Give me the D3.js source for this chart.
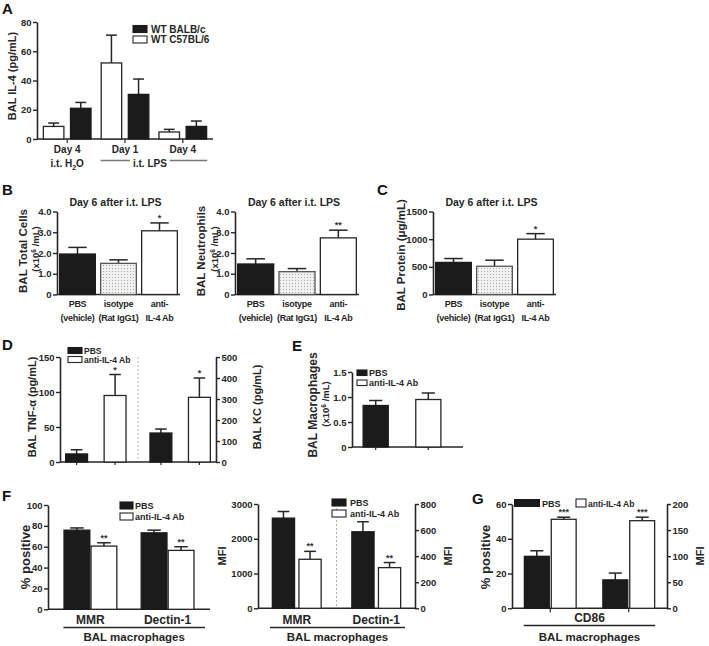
<!DOCTYPE html>
<html><head><meta charset="utf-8">
<script src="https://cdn.jsdelivr.net/npm/d3@7"></script>
<style>
body{margin:0;background:#fff}
svg{display:block;font-family:"Liberation Sans",Arial,Helvetica,sans-serif;font-weight:bold}
</style></head><body>
<svg id="fig" width="709" height="646"></svg>
<script>
// ===================== DATA =====================
// Panel A : BAL IL-4 (pg/mL)
const aGroupLabels = ["Day 4", "Day 1", "Day 4"];
const aSeriesNames = ["WT BALB/c", "WT C57BL/6"];
const aC57 = [8.6, 52, 4.8];
const aC57Err = [2.3, 19, 1.8];
const aBalb = [21, 30.5, 8.6];
const aBalbErr = [4, 10.5, 3.7];
const aTicks = [0, 20, 40, 60, 80];

// Panel B
const bCategories = [["PBS", "(vehicle)"], ["isotype", "(Rat IgG1)"], ["anti-", "IL-4 Ab"]];
const bTotal = [1.95, 1.5, 3.07];
const bTotalErr = [0.32, 0.17, 0.38];
const bTotalSig = ["", "", "*"];
const bNeut = [1.47, 1.1, 2.73];
const bNeutErr = [0.25, 0.15, 0.37];
const bNeutSig = ["", "", "**"];
const bTicks = [0, 1, 2, 3, 4];

// Panel C
const cProtein = [580, 510, 1000];
const cProteinErr = [70, 110, 100];
const cSig = ["", "", "*"];
const cTicks = [0, 500, 1000, 1500];

// Panel D
const treatments = ["PBS", "anti-IL-4 Ab"];
const dTnf = [11.5, 95];
const dTnfErr = [6, 30];
const dKc = [138, 308];
const dKcErr = [19, 92];
const dSig = ["", "*"];
const dTnfTicks = [0, 50, 100, 150];
const dKcTicks = [0, 100, 200, 300, 400, 500];

// Panel E
const eMac = [0.83, 0.95];
const eMacErr = [0.1, 0.13];
const eTicks = [0, 0.5, 1.0, 1.5];

// Panel F
const fMarkers = ["MMR", "Dectin-1"];
const fPctPbs = [75.9, 73.3];
const fPctPbsErr = [2.1, 2.6];
const fPctAnti = [60.6, 56.5];
const fPctAntiErr = [3.2, 3.5];
const fPctSig = ["**", "**"];
const fMfiPbs = [2594, 587];      // MMR on left axis, Dectin-1 on right axis
const fMfiPbsErr = [190, 77];
const fMfiAnti = [1410, 312];
const fMfiAntiErr = [228, 39];
const fMfiSig = ["**", "**"];
const fPctTicks = [0, 20, 40, 60, 80, 100];
const fMfiTicksL = [0, 1000, 2000, 3000];
const fMfiTicksR = [0, 200, 400, 600, 800];

// Panel G  (CD86: % positive on left axis, MFI on right axis)
const gPbs = [29.9, 54.5];
const gPbsErr = [3.2, 13];
const gAnti = [51.2, 168];
const gAntiErr = [1.2, 6.7];
const gSig = ["***", "***"];
const gTicksL = [0, 20, 40, 60];
const gTicksR = [0, 50, 100, 150, 200];

// ===================== DRAWING =====================
const FONT = '"Liberation Sans", Arial, Helvetica, sans-serif';
const INK = "#262626";
const BLACK = "#1b1b1b";
const svg = d3.select("#fig");

const defs = svg.append("defs");
const pat = defs.append("pattern").attr("id", "dots").attr("patternUnits", "userSpaceOnUse")
  .attr("width", 3).attr("height", 3);
pat.append("rect").attr("width", 3).attr("height", 3).attr("fill", "#f1f1f1");
pat.append("rect").attr("x", 1).attr("y", 1).attr("width", 1).attr("height", 1).attr("fill", "#a8a8a8");

const fill = { black: BLACK, white: "#fff", dots: "url(#dots)" };
const strokeOf = { black: BLACK, white: INK, dots: "#555" };

function txt(x, y, s, size, anchor) {
  return svg.append("text").attr("x", x).attr("y", y).text(s)
    .attr("text-anchor", anchor || "middle").style("font-size", size + "px").attr("fill", INK);
}
function panelLabel(x, y, s) { txt(x, y, s, 15, "start").attr("fill", "#111"); }

function yAxis(scale, x, ticks, fmt, side) {
  const ax = (side === "right" ? d3.axisRight(scale) : d3.axisLeft(scale))
    .tickValues(ticks).tickFormat(fmt).tickSize(4).tickPadding(1.5).tickSizeOuter(0);
  const g = svg.append("g").attr("transform", `translate(${x},0)`).call(ax)
    .attr("font-family", FONT).attr("font-size", 9.5).attr("font-weight", "bold");
  g.select(".domain").attr("stroke", INK).attr("stroke-width", 1.6);
  g.selectAll(".tick line").attr("stroke", INK).attr("stroke-width", 1.4);
  g.selectAll(".tick text").attr("fill", INK);
  return g;
}
function xLine(x0, x1, y) {
  svg.append("line").attr("x1", x0).attr("x2", x1).attr("y1", y).attr("y2", y)
    .attr("stroke", INK).attr("stroke-width", 1.6);
}
function xTicks(xs, y, len) {
  svg.append("g").selectAll("line").data(xs).join("line")
    .attr("x1", d => d).attr("x2", d => d).attr("y1", y).attr("y2", y + len)
    .attr("stroke", INK).attr("stroke-width", 1.2);
}
// one bar with upward error bar and optional significance mark
function bar(x, w, yS, v, err, kind, sig) {
  const y0 = yS(0), yv = yS(v), ye = yS(v + err), cx = x + w / 2;
  svg.append("line").attr("x1", cx).attr("x2", cx).attr("y1", yv).attr("y2", ye)
    .attr("stroke", INK).attr("stroke-width", 1.5);
  svg.append("line").attr("x1", cx - w / 4).attr("x2", cx + w / 4).attr("y1", ye).attr("y2", ye)
    .attr("stroke", INK).attr("stroke-width", 1.5);
  svg.append("rect").attr("x", x + 0.6).attr("y", yv).attr("width", w - 1.2).attr("height", y0 - yv)
    .attr("fill", fill[kind]).attr("stroke", strokeOf[kind]).attr("stroke-width", 1.3);
  if (sig) txt(cx, ye - 2, sig, 9).attr("fill", "#333");
}
function vLabel(cx, cy, size, parts) {
  const t = svg.append("text").attr("transform", `translate(${cx},${cy}) rotate(-90)`)
    .attr("text-anchor", "middle").attr("dy", "0.35em").style("font-size", size + "px").attr("fill", INK);
  parts.forEach(p => {
    const ts = t.append("tspan").text(p.t);
    if (p.sup) ts.attr("dy", -size * 0.35).style("font-size", (size * 0.7) + "px");
    if (p.back) ts.attr("dy", size * 0.35);
  });
  return t;
}
function legend(x, y, w, h, gap, size, items, textDx) {
  items.forEach((it, i) => {
    const yy = y + i * gap;
    svg.append("rect").attr("x", x).attr("y", yy).attr("width", w).attr("height", h)
      .attr("fill", fill[it.kind]).attr("stroke", strokeOf[it.kind]).attr("stroke-width", 1.1);
    txt(x + w + (textDx || 2), yy + h, it.name, size, "start");
  });
}
const fmt1 = d => d === 0 ? "0" : d3.format(".1f")(d);
const fmtInt = d => d3.format("d")(d);

// ---------- Panel A ----------
panelLabel(2, 14, "A");
{
  const y = d3.scaleLinear().domain([0, 80]).range([139, 22]);
  const xg = d3.scaleBand().domain(d3.range(aGroupLabels.length)).range([37, 213]).paddingInner(0.155).paddingOuter(0.1);
  const xs = d3.scaleBand().domain(["white", "black"]).range([0, xg.bandwidth()]).paddingInner(0.2);
  xLine(37, 213, y(0));
  xTicks(aGroupLabels.map((d, i) => xg(i) + xg.bandwidth() / 2), y(0), 4);
  aGroupLabels.forEach((lab, i) => {
    bar(xg(i) + xs("white"), xs.bandwidth(), y, aC57[i], aC57Err[i], "white");
    bar(xg(i) + xs("black"), xs.bandwidth(), y, aBalb[i], aBalbErr[i], "black");
    txt(xg(i) + xg.bandwidth() / 2, 153, lab, 10);
  });
  yAxis(y, 37, aTicks, fmtInt, "left");
  // i.t. H2O
  const h = svg.append("text").attr("x", xg(0) + xg.bandwidth() / 2).attr("y", 167)
    .attr("text-anchor", "middle").style("font-size", "10px").attr("fill", INK);
  h.append("tspan").text("i.t. H");
  h.append("tspan").text("2").attr("dy", 2.5).style("font-size", "7px");
  h.append("tspan").text("O").attr("dy", -2.5);
  // i.t. LPS with flanking lines
  const lx0 = xg(1), lx1 = xg(2) + xg.bandwidth();
  const cx = (lx0 + lx1) / 2 - 4;
  const t = txt(cx, 167, "i.t. LPS", 10);
  const tw = t.node().getComputedTextLength();
  [[lx0, cx - tw / 2 - 3], [cx + tw / 2 + 3, lx1]].forEach(([a, b]) =>
    svg.append("line").attr("x1", a).attr("x2", b).attr("y1", 160.5).attr("y2", 160.5)
      .attr("stroke", "#777").attr("stroke-width", 1.5));
  vLabel(12.5, 76, 11, [{ t: "BAL IL-4 (pg/mL)" }]);
  legend(133, 25.5, 14, 7, 10.5, 10, [{ name: aSeriesNames[0], kind: "black" }, { name: aSeriesNames[1], kind: "white" }], 4);
}

// ---------- Panel B / C helper ----------
const kinds3 = ["black", "dots", "white"];
function threeBar(x0, x1, vals, errs, sigs, dom, ticks, fmt) {
  const y = d3.scaleLinear().domain(dom).range([294.5, 211.5]);
  const x = d3.scaleBand().domain(d3.range(3)).range([x0, x1]).paddingInner(0.1).paddingOuter(0.05);
  xLine(x0, x1, y(0));
  vals.forEach((v, i) => bar(x(i), x.bandwidth(), y, v, errs[i], kinds3[i], sigs[i]));
  yAxis(y, x0, ticks, fmt, "left");
  bCategories.forEach((c, i) => {
    txt(x(i) + x.bandwidth() / 2, 307, c[0], 9).style("letter-spacing", "-0.3px");
    txt(x(i) + x.bandwidth() / 2, 321, c[1], 9).style("letter-spacing", "-0.3px");
  });
  txt((x0 + x1) / 2 - 3, 206, "Day 6 after i.t. LPS", 10.5);
}
panelLabel(2, 195, "B");
threeBar(57, 180, bTotal, bTotalErr, bTotalSig, [0, 4], bTicks, fmt1);
vLabel(22.5, 251, 11.5, [{ t: "BAL Total Cells" }]);
vLabel(35.5, 249, 9.5, [{ t: "(x10" }, { t: "6", sup: true }, { t: " /mL)", back: true }]);

threeBar(235, 359, bNeut, bNeutErr, bNeutSig, [0, 4], bTicks, fmt1);
vLabel(201, 251, 11.5, [{ t: "BAL Neutrophils" }]);
vLabel(214.5, 249, 9.5, [{ t: "(x10" }, { t: "6", sup: true }, { t: " /mL)", back: true }]);

panelLabel(377, 195, "C");
threeBar(433, 556, cProtein, cProteinErr, cSig, [0, 1500], cTicks, fmtInt);
vLabel(401, 255, 11.5, [{ t: "BAL Protein (μg/mL)" }]);

// ---------- Panel D ----------
panelLabel(2, 350, "D");
{
  const yL = d3.scaleLinear().domain([0, 150]).range([462, 357]);
  const yR = d3.scaleLinear().domain([0, 500]).range([462, 357]);
  const xg = d3.scaleBand().domain(["TNF", "KC"]).range([60, 216]).paddingInner(0.27).paddingOuter(0.06);
  const xs = d3.scaleBand().domain(treatments).range([0, xg.bandwidth()]).paddingInner(0.4);
  const sep = (xg("TNF") + xg.bandwidth() + xg("KC")) / 2;
  svg.append("line").attr("x1", sep).attr("x2", sep).attr("y1", 357).attr("y2", 462)
    .attr("stroke", "#aaa").attr("stroke-width", 0.9).attr("stroke-dasharray", "2,2");
  xLine(60, 216, yL(0));
  const centers = [];
  [["TNF", dTnf, dTnfErr, yL], ["KC", dKc, dKcErr, yR]].forEach(([g, vals, errs, ys]) => {
    treatments.forEach((t, j) => {
      const bx = xg(g) + xs(t);
      centers.push(bx + xs.bandwidth() / 2);
      bar(bx, xs.bandwidth(), ys, vals[j], errs[j], j === 0 ? "black" : "white", dSig[j]);
    });
  });
  xTicks(centers, 462, 3);
  yAxis(yL, 60, dTnfTicks, fmtInt, "left");
  yAxis(yR, 216, dKcTicks, fmtInt, "right");
  vLabel(32, 407, 11, [{ t: "BAL TNF-α (pg/mL)" }]);
  vLabel(257, 407, 11, [{ t: "BAL KC (pg/mL)" }]);
  legend(68, 347.5, 14, 6, 9, 8.5, [{ name: treatments[0], kind: "black" }, { name: treatments[1], kind: "white" }], 2);
}

// ---------- Panel E ----------
panelLabel(292, 351, "E");
{
  const y = d3.scaleLinear().domain([0, 1.5]).range([447, 372]);
  const x = d3.scaleBand().domain(treatments).range([352, 452]).paddingInner(0.5).paddingOuter(0.2);
  xLine(352, 463, y(0));
  treatments.forEach((t, j) => bar(x(t), x.bandwidth(), y, eMac[j], eMacErr[j], j === 0 ? "black" : "white"));
  xTicks(treatments.map(t => x(t) + x.bandwidth() / 2), 447, 3);
  yAxis(y, 352, eTicks, fmt1, "left");
  vLabel(313, 405, 12, [{ t: "BAL Macrophages" }]);
  vLabel(326, 404, 9.5, [{ t: "(x10" }, { t: "6", sup: true }, { t: " /mL)", back: true }]);
  legend(357, 370, 10, 5.5, 10, 9, [{ name: treatments[0], kind: "black" }, { name: treatments[1], kind: "white" }], 2);
}

// ---------- Panel F ----------
panelLabel(2, 501, "F");
function bottomLabels(xa, xb, cats, catXs) {
  cats.forEach((c, i) => txt(catXs[i], 624, c, 12));
  svg.append("line").attr("x1", xa).attr("x2", xb).attr("y1", 627.5).attr("y2", 627.5)
    .attr("stroke", INK).attr("stroke-width", 1.4);
  txt((xa + xb) / 2, 641, "BAL macrophages", 11.5);
}
{
  const y = d3.scaleLinear().domain([0, 100]).range([609.3, 505]);
  const xg = d3.scaleBand().domain(fMarkers).range([48, 210]).paddingInner(0.3).paddingOuter(0.2);
  const xs = d3.scaleBand().domain(treatments).range([0, xg.bandwidth()]).paddingInner(0);
  xLine(48, 210, y(0));
  fMarkers.forEach((m, i) => {
    bar(xg(m) + xs(treatments[0]), xs.bandwidth(), y, fPctPbs[i], fPctPbsErr[i], "black");
    bar(xg(m) + xs(treatments[1]), xs.bandwidth(), y, fPctAnti[i], fPctAntiErr[i], "white", fPctSig[i]);
  });
  yAxis(y, 48, fPctTicks, fmtInt, "left");
  vLabel(25, 557, 13, [{ t: "% positive" }]);
  legend(120, 502, 13, 7, 11, 9, [{ name: treatments[0], kind: "black" }, { name: treatments[1], kind: "white" }], 2);
  bottomLabels(xg(fMarkers[0]), 205, fMarkers, fMarkers.map(m => xg(m) + xg.bandwidth() / 2));
}
{
  const yL = d3.scaleLinear().domain([0, 3000]).range([608.3, 504]);
  const yR = d3.scaleLinear().domain([0, 800]).range([608.3, 504]);
  const xg = d3.scaleBand().domain(fMarkers).range([258, 415]).paddingInner(0.371).paddingOuter(0.173);
  const xs = d3.scaleBand().domain(treatments).range([0, xg.bandwidth()]).paddingInner(0.12);
  const sep = (xg(fMarkers[0]) + xg.bandwidth() + xg(fMarkers[1])) / 2;
  svg.append("line").attr("x1", sep).attr("x2", sep).attr("y1", 504).attr("y2", 608)
    .attr("stroke", "#aaa").attr("stroke-width", 0.9).attr("stroke-dasharray", "2,2");
  xLine(258, 415, yL(0));
  const axesY = [yL, yR];
  fMarkers.forEach((m, i) => {
    bar(xg(m) + xs(treatments[0]), xs.bandwidth(), axesY[i], fMfiPbs[i], fMfiPbsErr[i], "black");
    bar(xg(m) + xs(treatments[1]), xs.bandwidth(), axesY[i], fMfiAnti[i], fMfiAntiErr[i], "white", fMfiSig[i]);
  });
  yAxis(yL, 258, fMfiTicksL, fmtInt, "left");
  yAxis(yR, 415, fMfiTicksR, fmtInt, "right");
  vLabel(222, 556, 11, [{ t: "MFI" }]);
  vLabel(448, 556, 11, [{ t: "MFI" }]);
  legend(332, 499, 14, 7, 11, 9, [{ name: treatments[0], kind: "black" }, { name: treatments[1], kind: "white" }], 4);
  bottomLabels(270, 405, fMarkers, fMarkers.map(m => xg(m) + xg.bandwidth() / 2));
}

// ---------- Panel G ----------
panelLabel(472, 504, "G");
{
  const yL = d3.scaleLinear().domain([0, 60]).range([608.3, 504]);
  const yR = d3.scaleLinear().domain([0, 200]).range([608.3, 504]);
  const xg = d3.scaleBand().domain(["pct", "mfi"]).range([512, 667]).paddingInner(0.325).paddingOuter(0.15);
  const xs = d3.scaleBand().domain(treatments).range([0, xg.bandwidth()]).paddingInner(0.03);
  xLine(512, 667, yL(0));
  const axesY = [yL, yR];
  ["pct", "mfi"].forEach((g, i) => {
    bar(xg(g) + xs(treatments[0]), xs.bandwidth(), axesY[i], gPbs[i], gPbsErr[i], "black");
    bar(xg(g) + xs(treatments[1]), xs.bandwidth(), axesY[i], gAnti[i], gAntiErr[i], "white", gSig[i]);
  });
  xTicks(["pct", "mfi"].map(g => xg(g) + xg.bandwidth() / 2), yL(0), 4);
  yAxis(yL, 512, gTicksL, fmtInt, "left");
  yAxis(yR, 667, gTicksR, fmtInt, "right");
  vLabel(485, 557, 13, [{ t: "% positive" }]);
  vLabel(700, 556, 11, [{ t: "MFI" }]);
  // legend in one row
  svg.append("rect").attr("x", 514).attr("y", 499).attr("width", 26).attr("height", 8).attr("fill", BLACK);
  txt(542, 507, treatments[0], 9, "start");
  svg.append("rect").attr("x", 576).attr("y", 499).attr("width", 10).attr("height", 8)
    .attr("fill", "#fff").attr("stroke", INK).attr("stroke-width", 1.1);
  txt(588, 506.5, treatments[1], 8.5, "start");
  const a = xg("pct"), b = xg("mfi") + xg.bandwidth();
  txt((a + b) / 2, 622, "CD86", 12);
  svg.append("line").attr("x1", a).attr("x2", b).attr("y1", 625.5).attr("y2", 625.5)
    .attr("stroke", INK).attr("stroke-width", 1.4);
  txt((a + b) / 2, 641, "BAL macrophages", 11.5);
}
</script>
</body></html>
